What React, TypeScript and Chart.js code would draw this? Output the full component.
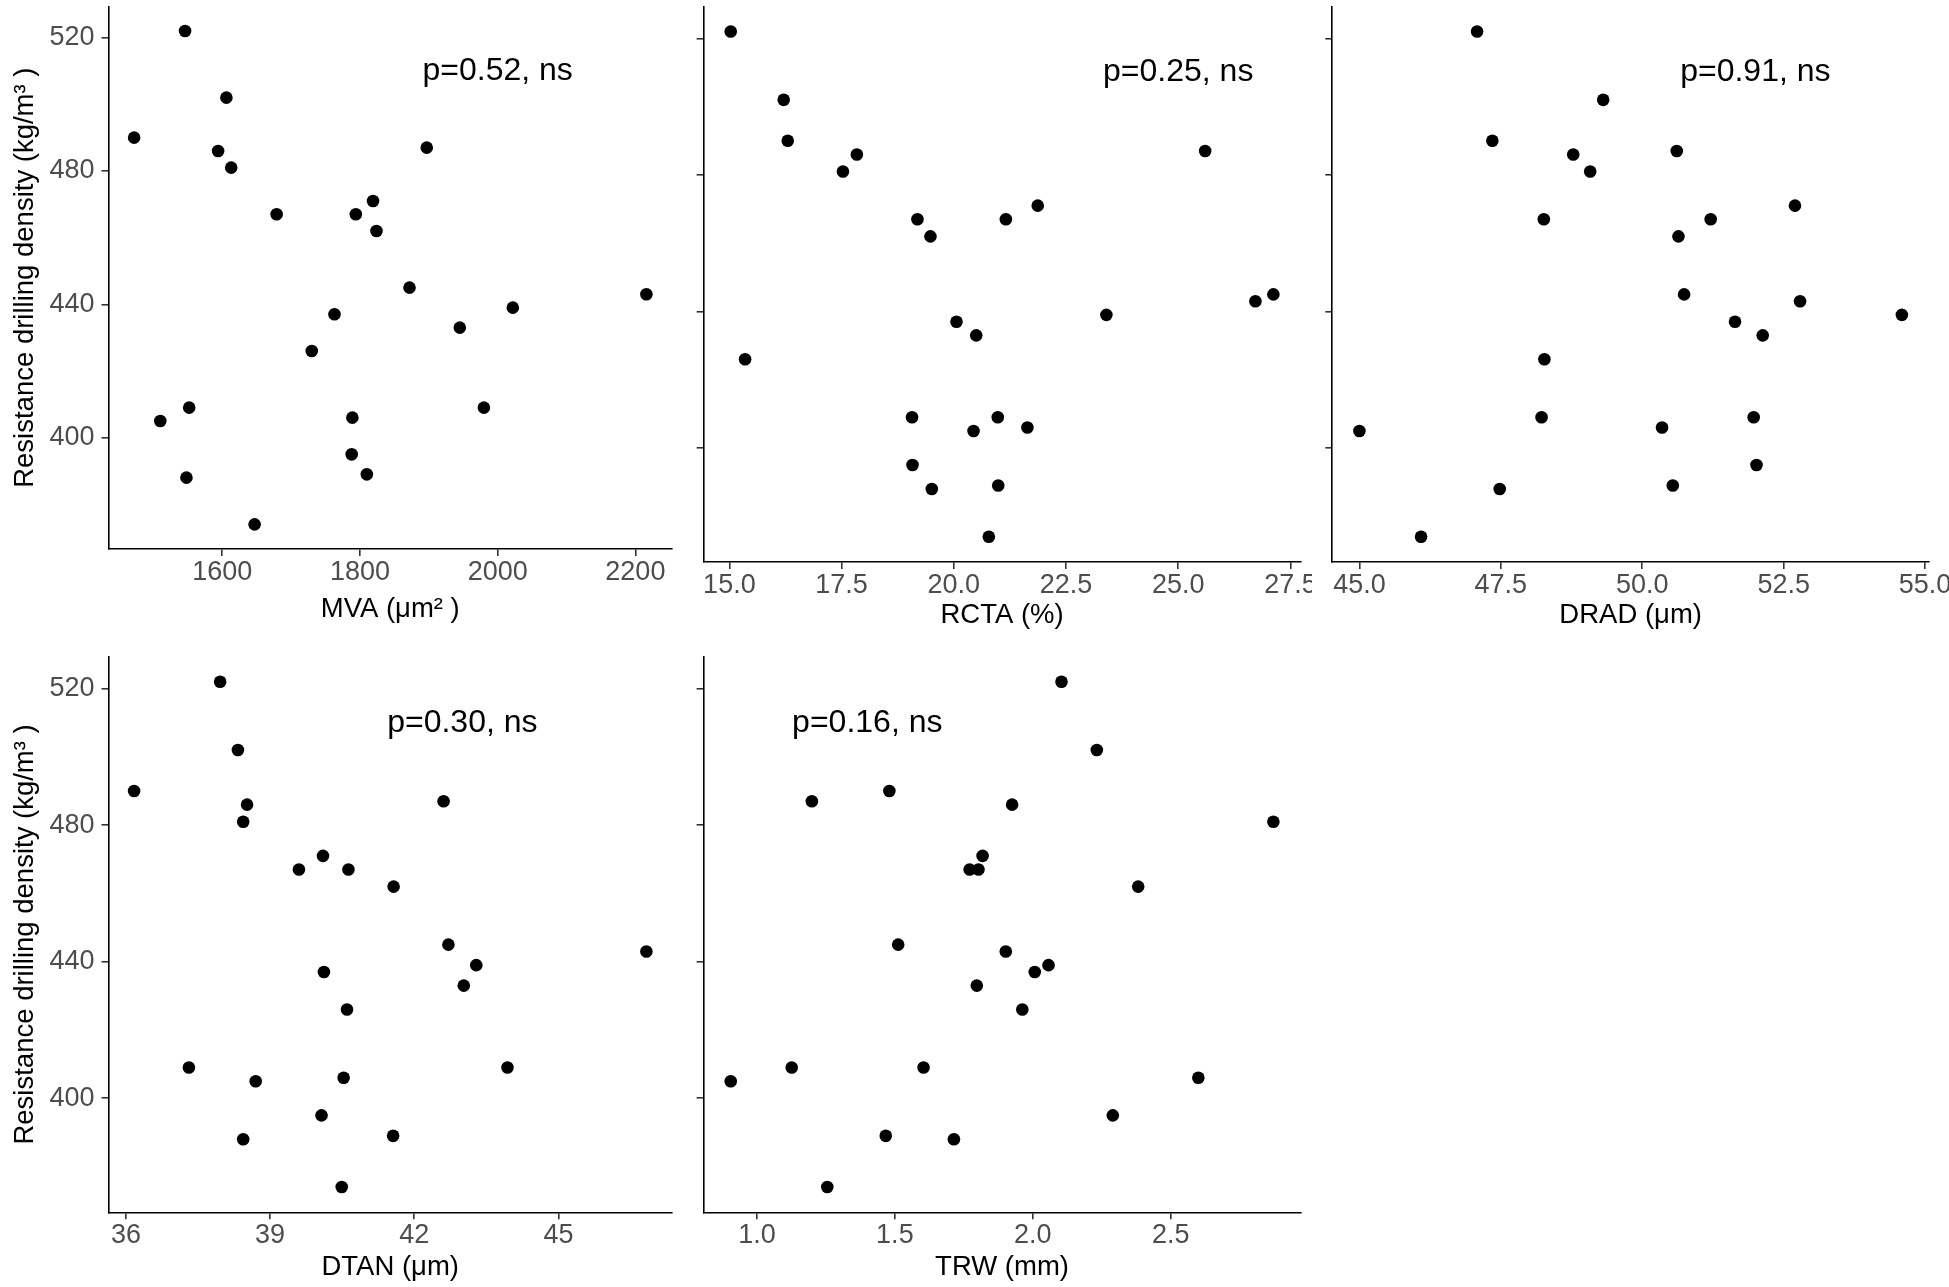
import React, { useEffect, useRef } from "react";
import { Chart, registerables } from "chart.js";

Chart.register(...registerables);

// one value per tree, same order in every array
const density = [522, 502, 490, 487, 486, 481, 471, 467, 467, 462, 445, 443, 439, 437, 433, 426, 409, 409, 406, 405, 395, 389, 388, 374];
const mva = [1546, 1606, 1472, 1897, 1594, 1613, 1819, 1679, 1794, 1824, 1872, 2216, 2022, 1763, 1945, 1730, 1552, 1980, 1789, 1510, 1788, 1810, 1548, 1647];
const rcta = [15.03, 16.21, 16.3, 25.6, 17.84, 17.53, 21.87, 19.19, 21.16, 19.48, 27.12, 26.72, 23.4, 20.06, 20.5, 15.35, 19.07, 20.98, 21.64, 20.44, 19.08, 20.99, 19.51, 20.78];
const drad = [47.08, 49.31, 47.35, 50.61, 48.78, 49.08, 52.7, 48.26, 51.21, 50.64, 50.74, 52.79, 54.59, 51.64, 52.13, 48.27, 48.22, 51.97, 50.35, 45.0, 52.02, 50.54, 47.48, 46.09];
const dtan = [37.96, 38.33, 36.17, 42.61, 38.52, 38.44, 40.1, 39.6, 40.63, 41.57, 42.71, 46.83, 43.29, 40.12, 43.03, 40.6, 37.31, 43.94, 40.53, 38.7, 40.07, 41.56, 38.44, 40.49];
const trw = [2.104, 2.232, 1.48, 1.199, 1.925, 2.872, 1.818, 1.771, 1.803, 2.382, 1.512, 1.902, 2.057, 2.007, 1.797, 1.962, 1.126, 1.604, 2.6, 0.905, 2.29, 1.467, 1.714, 1.255];

const densityTicks = [400, 440, 480, 520];
const mvaTicks = [1600, 1800, 2000, 2200];
const rctaTicks = [15, 17.5, 20, 22.5, 25, 27.5];
const dradTicks = [45, 47.5, 50, 52.5, 55];
const dtanTicks = [36, 39, 42, 45];
const trwTicks = [1, 1.5, 2, 2.5];

const pTexts = ["p=0.52, ns", "p=0.25, ns", "p=0.91, ns", "p=0.30, ns", "p=0.16, ns"];
const pX = [2000, 25, 52, 43, 1.4];
const pY = 510;

const yTitle = "Resistance drilling density (kg/m³ )";
const FONT = '"Liberation Sans", Arial, Helvetica, sans-serif';

type Panel = {
  xs: number[];
  ticks: number[];
  digits: number;
  title: string;
  p: number;
  showY: boolean;
  // canvas box and plot area, page pixels
  box: [number, number, number, number];
  plot: [number, number, number, number];
  titleGap: number;
};

const panels: Panel[] = [
  { xs: mva, ticks: mvaTicks, digits: 0, title: "MVA (μm² )", p: 0, showY: true, box: [0, 0, 688, 640], plot: [108.5, 6, 672, 549], titleGap: 14 },
  { xs: rcta, ticks: rctaTicks, digits: 1, title: "RCTA (%)", p: 1, showY: false, box: [688, 0, 624, 640], plot: [703.6, 6, 1300.5, 562], titleGap: 8 },
  { xs: drad, ticks: dradTicks, digits: 1, title: "DRAD (μm)", p: 2, showY: false, box: [1312, 0, 637, 640], plot: [1332.3, 6, 1929, 562], titleGap: 8 },
  { xs: dtan, ticks: dtanTicks, digits: 0, title: "DTAN (μm)", p: 3, showY: true, box: [0, 640, 688, 647], plot: [108.5, 656.5, 672, 1212.3], titleGap: 3 },
  { xs: trw, ticks: trwTicks, digits: 1, title: "TRW (mm)", p: 4, showY: false, box: [688, 640, 624, 647], plot: [703.6, 656.5, 1300.5, 1212.3], titleGap: 3 },
];

// ggplot-like 5% expansion
function expand(vals: number[]): [number, number] {
  const lo = Math.min(...vals);
  const hi = Math.max(...vals);
  const pad = (hi - lo) * 0.05;
  return [lo - pad, hi + pad];
}

const pLabelPlugin = {
  id: "pLabel",
  afterDatasetsDraw(chart: any, _args: any, opts: any) {
    const { ctx, scales } = chart;
    ctx.save();
    ctx.font = `32px ${FONT}`;
    ctx.fillStyle = "#000";
    ctx.textAlign = "center";
    ctx.textBaseline = "middle";
    ctx.fillText(opts.text, scales.x.getPixelForValue(opts.x), scales.y.getPixelForValue(opts.y));
    ctx.restore();
  },
};

function ScatterPanel({ panel }: { panel: Panel }) {
  const ref = useRef<HTMLCanvasElement | null>(null);

  useEffect(() => {
    const ctx = ref.current?.getContext("2d");
    if (!ctx) return;
    const [bx, by, bw, bh] = panel.box;
    const [pl, pt, pr, pb] = panel.plot;
    const [xMin, xMax] = expand(panel.xs);
    const [yMin, yMax] = expand(density);
    const axisLine = { display: true, color: "#000", width: 1.6 };
    const tickMarks = { display: true, drawOnChartArea: false, drawTicks: true, tickLength: 7, color: "#333333", lineWidth: 1.6 };

    const chart = new Chart(ctx, {
      type: "scatter",
      data: {
        datasets: [
          {
            data: panel.xs.map((x, i) => ({ x, y: density[i] })),
            backgroundColor: "#000",
            borderWidth: 0,
            pointRadius: 6.3,
            pointHoverRadius: 6.3,
          },
        ],
      },
      options: {
        responsive: false,
        animation: false,
        layout: { padding: { left: 0, top: pt - by, right: bx + bw - pr, bottom: 0 } },
        plugins: {
          legend: { display: false },
          tooltip: { enabled: false },
          pLabel: { text: pTexts[panel.p], x: pX[panel.p], y: pY },
        } as any,
        scales: {
          x: {
            type: "linear",
            bounds: "data",
            min: xMin,
            max: xMax,
            afterBuildTicks: (s: any) => {
              s.ticks = panel.ticks.map((v) => ({ value: v }));
            },
            afterFit: (s: any) => {
              s.height = by + bh - pb;
              s.paddingLeft = 0;
              s.paddingRight = 0;
            },
            ticks: {
              autoSkip: false,
              maxRotation: 0,
              padding: 0,
              color: "#4D4D4D",
              font: { family: FONT, size: 27 },
              callback: (v: any) => Number(v).toFixed(panel.digits),
            },
            grid: tickMarks,
            border: axisLine,
            title: { display: true, text: panel.title, color: "#000", font: { family: FONT, size: 27.5 }, padding: { top: 0, bottom: panel.titleGap } },
          },
          y: {
            type: "linear",
            bounds: "data",
            min: yMin,
            max: yMax,
            afterBuildTicks: (s: any) => {
              s.ticks = densityTicks.map((v) => ({ value: v }));
            },
            afterFit: (s: any) => {
              s.width = pl - bx;
              s.paddingTop = 0;
              s.paddingBottom = 0;
            },
            ticks: {
              display: panel.showY,
              padding: 7,
              color: "#4D4D4D",
              font: { family: FONT, size: 27 },
            },
            grid: tickMarks,
            border: axisLine,
            title: { display: panel.showY, text: yTitle, color: "#000", font: { family: FONT, size: 27.5 }, padding: { top: 9, bottom: 0 } },
          },
        },
      },
      plugins: [pLabelPlugin],
    } as any);
    return () => chart.destroy();
  }, [panel]);

  const [bx, by, bw, bh] = panel.box;
  return (
    <canvas
      ref={ref}
      width={bw}
      height={bh}
      style={{ position: "absolute", left: bx, top: by, width: bw, height: bh }}
    />
  );
}

export default function App() {
  return (
    <div style={{ position: "fixed", left: 0, top: 0, width: 1949, height: 1287, background: "#fff", overflow: "hidden" }}>
      {panels.map((p, i) => (
        <ScatterPanel key={i} panel={p} />
      ))}
    </div>
  );
}
